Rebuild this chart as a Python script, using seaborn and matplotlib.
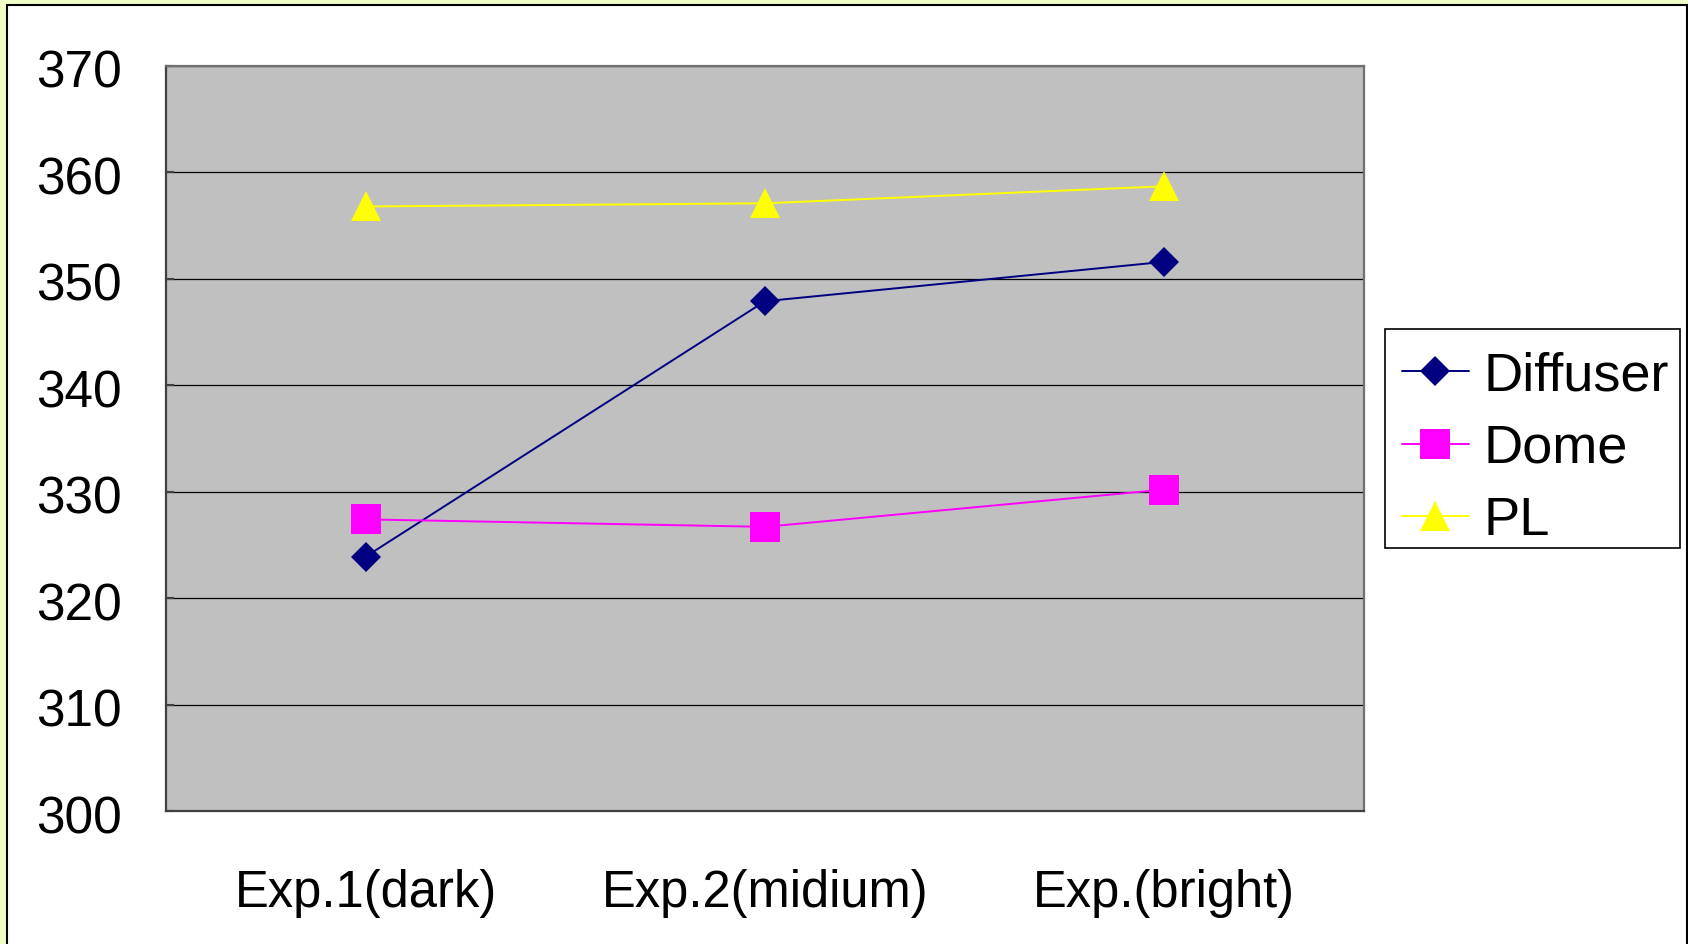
import numpy as np
import pandas as pd
import matplotlib
matplotlib.use("Agg")
import matplotlib.pyplot as plt
from matplotlib.patches import Rectangle
import matplotlib.transforms as mtransforms
import seaborn as sns

# data
categories = ["Exp.1(dark)", "Exp.2(midium)", "Exp.(bright)"]
series_names = ["Diffuser", "Dome", "PL"]
diffuser = [323.9, 347.9, 351.6]
dome = [327.4, 326.7, 330.2]
pl = [356.8, 357.1, 358.7]
y_ticks = [300, 310, 320, 330, 340, 350, 360, 370]

sns.set_style("white")
plt.rcParams["font.family"] = ["Liberation Sans", "DejaVu Sans"]
plt.rcParams["text.color"] = "black"
plt.rcParams["xtick.labelcolor"] = "black"
plt.rcParams["ytick.labelcolor"] = "black"

W, H = 1688, 944
fig = plt.figure(figsize=(W / 100, H / 100), dpi=100)
fig.patch.set_facecolor("#F0FFC8")

# white chart area with black frame (behind the axes)
frame = Rectangle((7 / W, -0.05), (1687 - 7) / W, 1 - 5 / H + 0.05,
                  transform=fig.transFigure, facecolor="white",
                  edgecolor="black", lw=1.5, zorder=-5)
fig.patches.append(frame)

# legend box drawn separately so the entries can be placed freely inside
leg_box = Rectangle((1385 / W, 1 - 548 / H), 295 / W, 219 / H,
                    transform=fig.transFigure, facecolor="white",
                    edgecolor="black", lw=1.2, zorder=-4)
fig.patches.append(leg_box)

ax = fig.add_axes([166 / W, 1 - 811 / H, (1364 - 166) / W, (811 - 66) / H])
ax.set_facecolor("#C0C0C0")

x = np.arange(len(categories))
styles = {
    "Diffuser": dict(values=diffuser, color="#000080", marker="D", ms=14.8),
    "Dome": dict(values=dome, color="#FF00FF", marker="s", ms=20.9),
    "PL": dict(values=pl, color="#FFFF00", marker="^", ms=20.9),
}
for name in series_names:
    st = styles[name]
    sns.lineplot(x=x, y=st["values"], ax=ax, color=st["color"], marker=st["marker"],
                 markersize=st["ms"], markeredgewidth=0, linewidth=1.4,
                 label=name, zorder=3)

# axes
ax.set_xlim(-0.5, len(categories) - 0.5)
ax.set_ylim(300, 370)
ax.set_yticks(y_ticks)
ax.yaxis.grid(True, color="black", linewidth=0.9)
ax.xaxis.grid(False)
ax.set_axisbelow(True)

ax.set_xticks(np.arange(len(categories) + 1) - 0.5)
ax.set_xticklabels([])
ax.set_xticks(x, minor=True)
ax.set_xticklabels(categories, minor=True)
ax.tick_params(axis="x", which="major", direction="in", length=9, width=1, color="#404040")
ax.tick_params(axis="x", which="minor", length=0, pad=42, labelsize=36.5,
               labelcolor="black")
ax.tick_params(axis="y", direction="in", length=6, width=1.5, color="#404040",
               pad=32, labelsize=37, left=True, labelcolor="black")
ax.set_xlabel("")
ax.set_ylabel("")

# y labels sit a little below their gridlines in the original
offset = mtransforms.ScaledTranslation(0, -3 / 100, fig.dpi_scale_trans)
for lab in ax.get_yticklabels():
    lab.set_transform(lab.get_transform() + offset)

for side in ["left", "bottom"]:
    ax.spines[side].set_color("#404040")
    ax.spines[side].set_linewidth(1.6)
for side in ["top", "right"]:
    ax.spines[side].set_color("#707070")
    ax.spines[side].set_linewidth(1.6)

leg = ax.legend(loc="upper left", bbox_to_anchor=(1402 / W, 1 - 351 / H),
                bbox_transform=fig.transFigure, borderaxespad=0, fontsize=39,
                frameon=False, handlelength=1.23, handletextpad=0.28,
                borderpad=0, labelspacing=0.415)
for t in leg.get_texts():
    t.set_color("black")

fig.savefig("out.png", dpi=100, facecolor=fig.get_facecolor())
